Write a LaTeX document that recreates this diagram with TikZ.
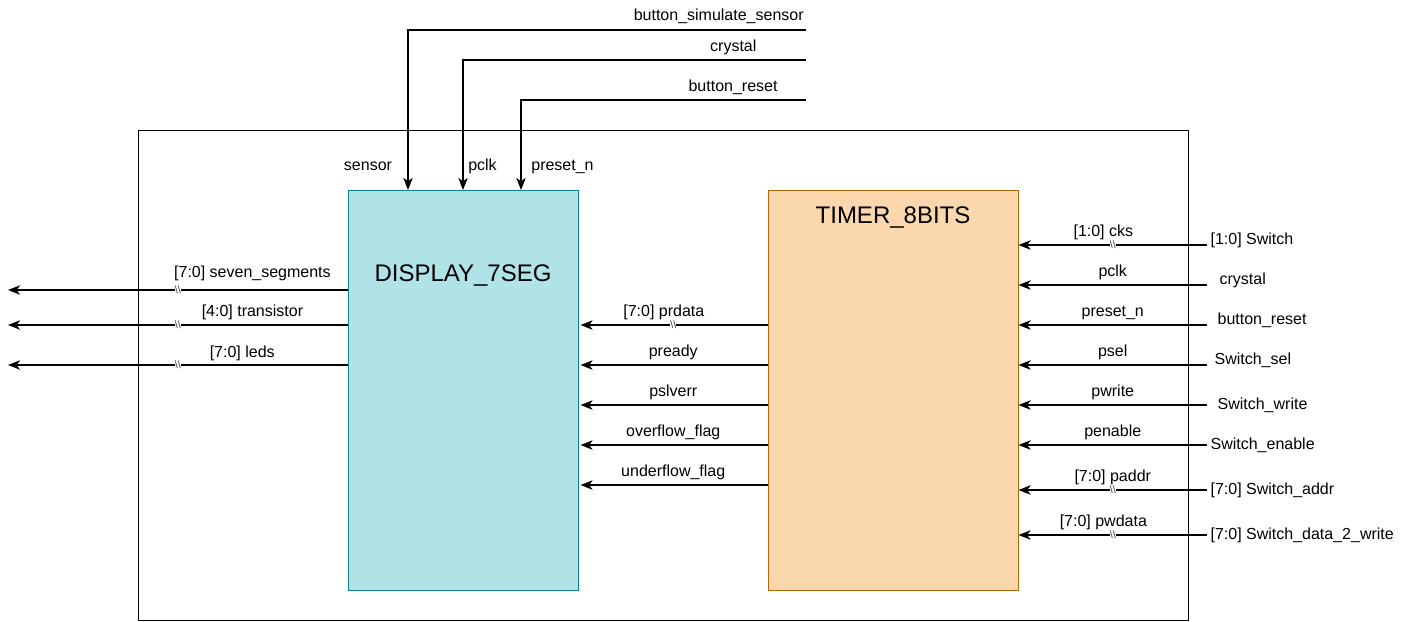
\documentclass[tikz,border=0pt]{standalone}
\usepackage{fontspec}
\setmainfont{Liberation Sans}
\usetikzlibrary{arrows.meta,positioning}
\tikzset {>=Stealth}
\definecolor{dispfill}{HTML}{B0E3E6}
\definecolor{displine}{HTML}{0E8088}
\definecolor{timerfill}{HTML}{FAD7AC}
\definecolor{timerline}{HTML}{B46504}

\begin{document}
\begin{tikzpicture}[x=.75pt,y=-.75pt,
  sig/.style={line width=1.5pt,-{Stealth[length=9pt,width=7pt,inset=2.5pt]}},
  lbl/.style={font=\fontsize{12}{14}\selectfont,inner sep=1pt,text height=9pt,text depth=3pt},
  ttl/.style={font=\fontsize{18}{20}\selectfont,anchor=base,inner sep=0pt},
  blk/.style={draw,line width=.75pt,minimum width=172.5pt,minimum height=300pt,inner sep=0pt},
  bus/.style={font=\fontsize{8}{8}\selectfont,text=black!75,fill=white,inner sep=.2pt}]
\useasboundingbox (0,0) rectangle (1408,621);
% frame and the two blocks
\node[draw,line width=.75pt,minimum width=787.5pt,minimum height=367.5pt,inner sep=0pt] (frame) at (663,375) {};
\node[blk,fill=dispfill,draw=displine] (disp) at (463,390) {};
\node[blk,fill=timerfill,draw=timerline,minimum width=187.5pt] (timer) at (893,390) {};
\node[ttl] (disptitle) at (463,281.5) {DISPLAY\_7SEG};
\node[ttl] (timertitle) at (893,223.5) {TIMER\_8BITS};
% inputs from the top
\coordinate (bsim) at (806,30);
\coordinate (xtal) at (806,60);
\coordinate (brst) at (806,100);
\coordinate (d-sensor) at (408,190);
\coordinate (d-pclk) at (463,190);
\coordinate (d-preset) at (521,190);
\draw[sig] (bsim) -| node[pos=0,lbl,above left=2pt and 0pt] {button\_simulate\_sensor} (d-sensor);
\draw[sig] (xtal) -| node[pos=.106,lbl,above=2pt] {crystal} (d-pclk);
\draw[sig] (brst) -| node[pos=.128,lbl,above=2pt] {button\_reset} (d-preset);
\node[lbl] (p-sensor) at (368,166) {sensor};
\node[lbl] (p-pclk) at (482.5,166) {pclk};
\node[lbl] (p-preset) at (562.5,166) {preset\_n};
% outputs to the left
\coordinate (o-seg) at (8,290);
\coordinate (o-tr) at (8,325);
\coordinate (o-led) at (8,365);
\draw[sig] (disp.west |- o-seg) -- node[bus] {\textbackslash\textbackslash} node[pos=.28,lbl,above=5pt] {[7:0] seven\_segments} (o-seg);
\draw[sig] (disp.west |- o-tr) -- node[bus] {\textbackslash\textbackslash} node[pos=.28,lbl,above=2pt] {[4:0] transistor} (o-tr);
\draw[sig] (disp.west |- o-led) -- node[bus] {\textbackslash\textbackslash} node[pos=.31,lbl,above=1pt] {[7:0] leds} (o-led);
% timer to display
\coordinate (t-prdata) at (768,325);
\coordinate (t-pready) at (768,365);
\coordinate (t-pslverr) at (768,405);
\coordinate (t-ovf) at (768,445);
\coordinate (t-unf) at (768,485);
\draw[sig,shorten >=1.5pt] (t-prdata) -- node[bus] {\textbackslash\textbackslash} node[pos=.55,lbl,above=2pt] {[7:0] prdata} (disp.east |- t-prdata);
\draw[sig,shorten >=1.5pt] (t-pready) -- node[lbl,above=2pt] {pready} (disp.east |- t-pready);
\draw[sig,shorten >=1.5pt] (t-pslverr) -- node[lbl,above=2pt] {pslverr} (disp.east |- t-pslverr);
\draw[sig,shorten >=1.5pt] (t-ovf) -- node[lbl,above=2pt] {overflow\_flag} (disp.east |- t-ovf);
\draw[sig,shorten >=1.5pt] (t-unf) -- node[lbl,above=2pt] {underflow\_flag} (disp.east |- t-unf);
% inputs from the right
\coordinate (s-cks) at (1207,245);
\coordinate (s-pclk) at (1207,285);
\coordinate (s-preset) at (1207,325);
\coordinate (s-psel) at (1207,365);
\coordinate (s-pwrite) at (1207,405);
\coordinate (s-penable) at (1207,445);
\coordinate (s-paddr) at (1207,490);
\coordinate (s-pwdata) at (1207,535);
\draw[sig] (s-cks) -- node[bus] {\textbackslash\textbackslash} node[pos=.55,lbl,above=2pt] {[1:0] cks} (timer.east |- s-cks);
\draw[sig] (s-pclk) -- node[lbl,above=2pt] {pclk} (timer.east |- s-pclk);
\draw[sig] (s-preset) -- node[lbl,above=2pt] {preset\_n} (timer.east |- s-preset);
\draw[sig] (s-psel) -- node[lbl,above=2pt] {psel} (timer.east |- s-psel);
\draw[sig] (s-pwrite) -- node[lbl,above=2pt] {pwrite} (timer.east |- s-pwrite);
\draw[sig] (s-penable) -- node[lbl,above=2pt] {penable} (timer.east |- s-penable);
\draw[sig] (s-paddr) -- node[bus] {\textbackslash\textbackslash} node[lbl,above=2pt] {[7:0] paddr} (timer.east |- s-paddr);
\draw[sig] (s-pwdata) -- node[bus] {\textbackslash\textbackslash} node[pos=.55,lbl,above=2pt] {[7:0] pwdata} (timer.east |- s-pwdata);
\node[lbl,anchor=west] (l-cks) at (1209,240) {[1:0] Switch};
\node[lbl,anchor=west] (l-pclk) at (1218,280) {crystal};
\node[lbl,anchor=west] (l-preset) at (1216,320) {button\_reset};
\node[lbl,anchor=west] (l-psel) at (1213,360) {Switch\_sel};
\node[lbl,anchor=west] (l-pwrite) at (1216,405) {Switch\_write};
\node[lbl,anchor=west] (l-penable) at (1209,445) {Switch\_enable};
\node[lbl,anchor=west] (l-paddr) at (1209,490) {[7:0] Switch\_addr};
\node[lbl,anchor=west] (l-pwdata) at (1209,535) {[7:0] Switch\_data\_2\_write};
\end{tikzpicture}
\end{document}
